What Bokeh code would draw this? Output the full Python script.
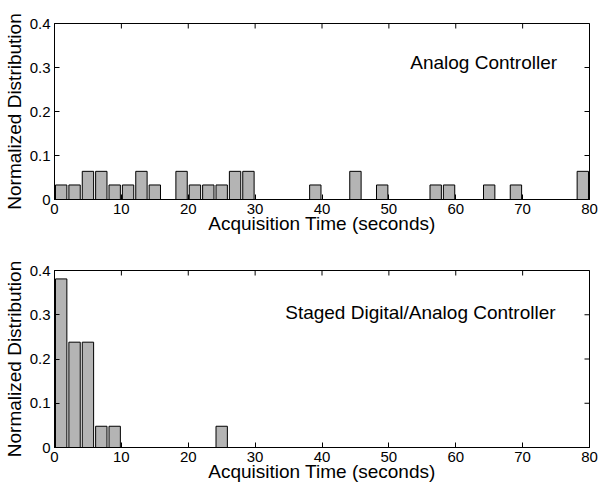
from bokeh.plotting import figure
from bokeh.models import Label, Range1d, FixedTicker, ColumnDataSource
from bokeh.layouts import column
from bokeh.embed import file_html
from bokeh.resources import INLINE
import math

# ---- data ----
top_bin_left = [0, 2, 4, 6, 8, 10, 12, 14, 18, 20, 22, 24, 26, 28,
                38, 44, 48, 56, 58, 64, 68, 78]
top_values = [0.033, 0.033, 0.064, 0.064, 0.033, 0.033, 0.064, 0.033,
              0.064, 0.033, 0.033, 0.033, 0.064, 0.064,
              0.033, 0.064, 0.033, 0.033, 0.033, 0.033, 0.033, 0.064]
bottom_bin_left = [0, 2, 4, 6, 8, 24]
bottom_values = [0.381, 0.238, 0.238, 0.048, 0.048, 0.048]
bin_width = 2
x_ticks = [0, 10, 20, 30, 40, 50, 60, 70, 80]
y_ticks = [0, 0.1, 0.2, 0.3, 0.4]
y_tick_labels = {0: "0", 0.1: "0.1", 0.2: "0.2", 0.3: "0.3", 0.4: "0.4"}
x_title = "Acquisition Time (seconds)"
y_title = "Normalized Distribution"
top_note = "Analog Controller"
bottom_note = "Staged  Digital/Analog Controller"

FONT = "Liberation Sans"
X_MIN, X_MAX = 0, 80
Y_MIN, Y_MAX = 0, 0.4


def make_panel(lefts, vals, note, note_x, note_y, height, b_top, b_bottom):
    p = figure(width=598, height=height, output_backend="svg", toolbar_location=None,
               x_range=Range1d(X_MIN, X_MAX), y_range=Range1d(Y_MIN, Y_MAX),
               min_border_left=54, min_border_right=9,
               min_border_top=b_top, min_border_bottom=b_bottom,
               x_axis_label=x_title, y_axis_label=y_title)
    p.grid.visible = False
    p.outline_line_color = "black"
    p.outline_line_width = 1
    p.background_fill_color = "white"
    p.border_fill_color = "white"

    centers = [l + bin_width / 2 for l in lefts]
    src = ColumnDataSource(dict(x=centers, top=vals))
    p.vbar(x="x", top="top", width=bin_width * 0.85, bottom=0, source=src,
           fill_color="#b4b4b4", line_color="black", line_width=1,
           hatch_pattern="checker", hatch_color="#5a5a5a", hatch_scale=2, hatch_weight=1)

    for ax in p.xaxis:
        ax.ticker = FixedTicker(ticks=x_ticks)
        ax.major_tick_in = 5
        ax.major_tick_out = 0
        ax.minor_tick_line_color = None
        ax.major_label_text_font = FONT
        ax.major_label_text_font_size = "15px"
        ax.major_label_text_color = "black"
        ax.major_label_standoff = 4
        ax.axis_label_text_font = FONT
        ax.axis_label_text_font_size = "19px"
        ax.axis_label_text_font_style = "normal"
        ax.axis_label_text_color = "black"
        ax.axis_label_standoff = -4
        ax.axis_line_color = "black"
    for ax in p.yaxis:
        ax.ticker = FixedTicker(ticks=y_ticks)
        ax.major_label_overrides = y_tick_labels
        ax.major_tick_in = 5
        ax.major_tick_out = 0
        ax.minor_tick_line_color = None
        ax.major_label_text_font = FONT
        ax.major_label_text_font_size = "15px"
        ax.major_label_text_color = "black"
        ax.major_label_standoff = 4
        ax.axis_label_text_font = FONT
        ax.axis_label_text_font_size = "19px"
        ax.axis_label_text_font_style = "normal"
        ax.axis_label_text_color = "black"
        ax.axis_label_standoff = 2
        ax.axis_line_color = "black"

    # inward tick marks on the top and right frame edges (clipped half of a dash)
    p.scatter(x=x_ticks, y=[Y_MAX] * len(x_ticks), marker="dash", size=10,
              angle=math.pi / 2, line_color="black", line_width=1)
    p.scatter(x=[X_MAX] * len(y_ticks), y=y_ticks, marker="dash", size=10,
              line_color="black", line_width=1)

    p.add_layout(Label(x=note_x, y=note_y, text=note, text_font=FONT,
                       text_font_size="19px", text_color="black",
                       text_baseline="middle", text_align="left"))
    return p


p1 = make_panel(top_bin_left, top_values, top_note, 53.2, 0.311, 250, 23, 51)
p2 = make_panel(bottom_bin_left, bottom_values, bottom_note, 34.5, 0.304, 239, 20, 42)

layout = column(p1, p2, spacing=0)
open("out.html", "w").write(file_html(layout, INLINE))
